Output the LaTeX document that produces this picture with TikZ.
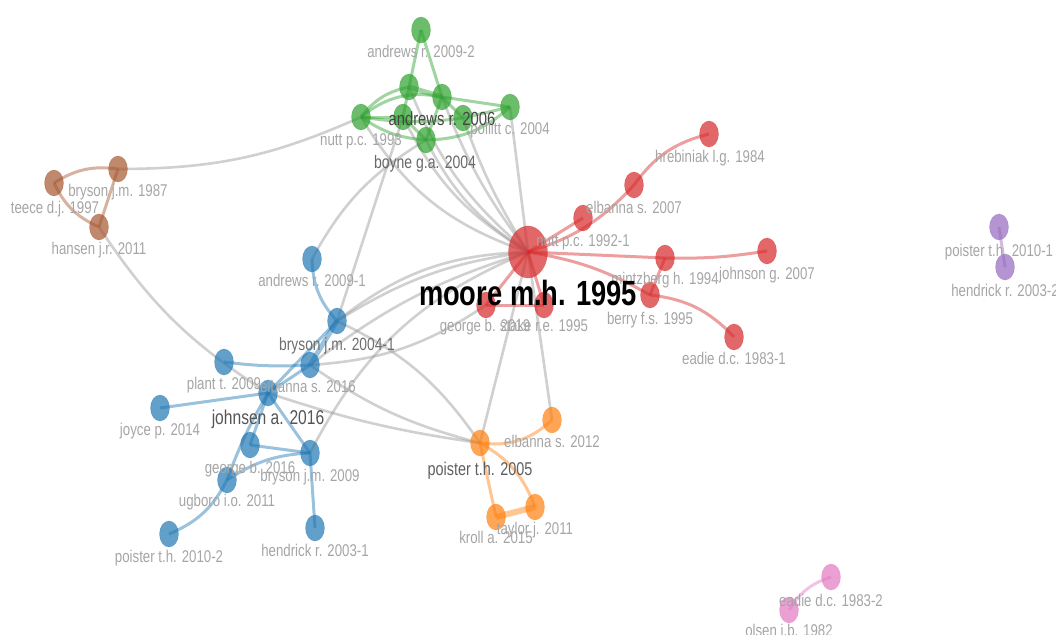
\documentclass[tikz,border=0pt]{standalone}
\usepackage{fontspec}
\usetikzlibrary{shapes.geometric,backgrounds}
\newfontfamily\lf[FakeStretch=0.78]{Liberation Sans}
\definecolor{cgreen}{RGB}{44,160,44}
\definecolor{cred}{RGB}{214,39,40}
\definecolor{cblue}{RGB}{31,119,180}
\definecolor{corange}{RGB}{255,127,14}
\definecolor{cbrown}{RGB}{165,85,45}
\definecolor{cpurple}{RGB}{148,103,189}
\definecolor{cpink}{RGB}{227,119,194}
\definecolor{lgray}{RGB}{165,165,165}
\definecolor{edgegray}{RGB}{150,150,150}
\tikzset{
  vn/.style={ellipse, inner sep=0pt, minimum width=19pt, minimum height=26pt,
    fill=#1, fill opacity=0.7, draw=#1, draw opacity=0.35, line width=0.6pt},
  bignode/.style={minimum width=39pt, minimum height=52pt},
  lbl/.style={font=\lf\fontsize{17}{17}\selectfont, text=lgray, inner sep=0pt, anchor=base},
  lblmid/.style={font=\lf\fontsize{#1}{#1}\selectfont, inner sep=0pt, anchor=base},
  gedge/.style={draw=edgegray, draw opacity=0.45, line width=2.6pt},
  cedge/.style={draw=#1, draw opacity=0.45, line width=3pt},
}
\begin{document}
\begin{tikzpicture}[x=1pt,y=-1pt]
\useasboundingbox (0,0) rectangle (1056,634);
% ---------- nodes ----------
% green
\node[vn=cgreen] (a092) at (421,30) {};
\node[vn=cgreen] (gA) at (409,87) {};
\node[vn=cgreen] (a06) at (442,97) {};
\node[vn=cgreen] (n93) at (361,117) {};
\node[vn=cgreen] (gC) at (403,117) {};
\node[vn=cgreen] (gD) at (463,118) {};
\node[vn=cgreen] (pol) at (510,107) {};
\node[vn=cgreen] (boy) at (426,140) {};
% brown
\node[vn=cbrown] (b87) at (118,169) {};
\node[vn=cbrown] (tee) at (54,183) {};
\node[vn=cbrown] (han) at (99,227) {};
% red
\node[vn=cred, bignode] (moore) at (528,252) {};
\node[vn=cred] (hreb) at (709,134) {};
\node[vn=cred] (el07) at (634,185) {};
\node[vn=cred] (n92) at (583,218) {};
\node[vn=cred] (mintz) at (665,258) {};
\node[vn=cred] (john07) at (767,251) {};
\node[vn=cred] (berry) at (650,295) {};
\node[vn=cred] (ead1) at (734,337) {};
\node[vn=cred] (geo19) at (486,305) {};
\node[vn=cred] (stake) at (544,305) {};
% blue
\node[vn=cblue] (a091) at (312,259) {};
\node[vn=cblue] (br041) at (337,321) {};
\node[vn=cblue] (el16) at (310,365) {};
\node[vn=cblue] (plant) at (224,362) {};
\node[vn=cblue] (johns) at (268,393) {};
\node[vn=cblue] (joyce) at (160,408) {};
\node[vn=cblue] (geo16) at (250,445) {};
\node[vn=cblue] (br09) at (310,453) {};
\node[vn=cblue] (ugb) at (227,480) {};
\node[vn=cblue] (poi102) at (169,534) {};
\node[vn=cblue] (hen1) at (315,528) {};
% orange
\node[vn=corange] (poi05) at (480,443) {};
\node[vn=corange] (el12) at (552,420) {};
\node[vn=corange] (tay) at (535,507) {};
\node[vn=corange] (kroll) at (496,517) {};
% purple
\node[vn=cpurple] (poi101) at (999,227) {};
\node[vn=cpurple] (hen2) at (1005,267) {};
% pink
\node[vn=cpink] (ead2) at (831,577) {};
\node[vn=cpink] (ols) at (789,610) {};

% ---------- edges ----------
\begin{scope}[on background layer]
% gray links between clusters
\draw[gedge] (b87.center) to[bend right=12] (n93.center);
\draw[gedge] (han.center) to[bend right=12] (johns.center);
\draw[gedge] (a091.center) to[bend left=15] (boy.center);
\draw[gedge] (br041.center) -- (gC.center);
\draw[gedge] (n93.center) to[bend right=20] (moore.center);
\draw[gedge] (gA.center) to[bend right=14] (moore.center);
\draw[gedge] (a06.center) to[bend right=8] (moore.center);
\draw[gedge] (gC.center) to[bend right=16] (moore.center);
\draw[gedge] (gD.center) to[bend right=6] (moore.center);
\draw[gedge] (boy.center) to[bend right=15] (moore.center);
\draw[gedge] (pol.center) -- (moore.center);
\draw[gedge] (moore.center) to[bend right=12] (br041.center);
\draw[gedge] (moore.center) to[bend right=18] (br041.center);
\draw[gedge] (moore.center) to[bend right=10] (el16.center);
\draw[gedge] (el16.center) to[bend right=15] (geo19.center);
\draw[gedge] (br041.center) to[bend left=15] (poi05.center);
\draw[gedge] (johns.center) to[bend right=5] (poi05.center);
\draw[gedge] (el16.center) to[bend right=10] (poi05.center);
\draw[gedge] (br09.center) to[bend left=20] (moore.center);
\draw[gedge] (moore.center) -- (poi05.center);
\draw[gedge] (moore.center) -- (el12.center);
% green
\draw[cedge=cgreen] (a092.center) -- (gA.center);
\draw[cedge=cgreen] (a092.center) -- (a06.center);
\draw[cedge=cgreen, line width=5pt] (gA.center) -- (a06.center);
\draw[cedge=cgreen] (n93.center) to[bend left=20] (gA.center);
\draw[cedge=cgreen] (n93.center) to[bend left=25] (a06.center);
\draw[cedge=cgreen] (n93.center) -- (gC.center);
\draw[cedge=cgreen] (n93.center) to[bend right=15] (boy.center);
\draw[cedge=cgreen] (n93.center) to[bend right=8] (gD.center);
\draw[cedge=cgreen] (a06.center) -- (pol.center);
\draw[cedge=cgreen] (gD.center) -- (pol.center);
\draw[cedge=cgreen] (boy.center) to[bend right=20] (pol.center);
\draw[cedge=cgreen] (gA.center) -- (gC.center);
\draw[cedge=cgreen] (a06.center) -- (gD.center);
\draw[cedge=cgreen] (a06.center) -- (boy.center);
\draw[cedge=cgreen] (gC.center) -- (boy.center);
% brown
\draw[cedge=cbrown] (tee.center) to[bend left=20] (b87.center);
\draw[cedge=cbrown] (tee.center) to[bend right=20] (han.center);
\draw[cedge=cbrown] (b87.center) -- (han.center);
% red
\draw[cedge=cred] (moore.center) -- (n92.center);
\draw[cedge=cred] (moore.center) to[bend right=15] (el07.center);
\draw[cedge=cred] (el07.center) to[bend left=20] (hreb.center);
\draw[cedge=cred] (moore.center) -- (mintz.center);
\draw[cedge=cred] (mintz.center) to[bend right=5] (john07.center);
\draw[cedge=cred] (mintz.center) -- (berry.center);
\draw[cedge=cred] (moore.center) to[bend left=10] (berry.center);
\draw[cedge=cred] (berry.center) to[bend left=20] (ead1.center);
\draw[cedge=cred] (moore.center) -- (geo19.center);
\draw[cedge=cred] (geo19.center) -- (stake.center);
\draw[cedge=cred] (moore.center) -- (stake.center);
% blue
\draw[cedge=cblue] (a091.center) to[bend right=20] (br041.center);
\draw[cedge=cblue, line width=5pt] (br041.center) -- (el16.center);
\draw[cedge=cblue] (br041.center) -- (johns.center);
\draw[cedge=cblue] (plant.center) to[bend right=5] (el16.center);
\draw[cedge=cblue] (el16.center) -- (johns.center);
\draw[cedge=cblue] (joyce.center) -- (johns.center);
\draw[cedge=cblue] (johns.center) -- (geo16.center);
\draw[cedge=cblue] (johns.center) -- (br09.center);
\draw[cedge=cblue] (johns.center) to[bend right=5] (ugb.center);
\draw[cedge=cblue] (geo16.center) -- (br09.center);
\draw[cedge=cblue] (br09.center) to[bend right=15] (ugb.center);
\draw[cedge=cblue] (ugb.center) to[bend left=20] (poi102.center);
\draw[cedge=cblue] (br09.center) -- (hen1.center);
% orange
\draw[cedge=corange] (poi05.center) to[bend right=25] (el12.center);
\draw[cedge=corange] (poi05.center) to[bend left=20] (tay.center);
\draw[cedge=corange] (poi05.center) -- (kroll.center);
\draw[cedge=corange, line width=6pt] (kroll.center) -- (tay.center);
% purple, pink
\draw[cedge=cpurple] (poi101.center) -- (hen2.center);
\draw[cedge=cpink] (ols.center) to[bend left=20] (ead2.center);
\end{scope}

% ---------- labels ----------
\node[lbl] (a092-l) at (421,58) {andrews r. 2009-2};
\node[lblmid=19, text={rgb,255:red,70;green,70;blue,70}] (a06-l) at (442,125) {andrews r. 2006};
\node[lbl] (n93-l) at (361,145) {nutt p.c. 1993};
\node[lbl] (pol-l) at (510,134) {pollitt c. 2004};
\node[lblmid=18, text={rgb,255:red,105;green,105;blue,105}] (boy-l) at (425,168.5) {boyne g.a. 2004};
\node[lbl] (b87-l) at (118,196) {bryson j.m. 1987};
\node[lbl] (tee-l) at (55,213) {teece d.j. 1997};
\node[lbl] (han-l) at (99,254) {hansen j.r. 2011};
\node[lbl] (hreb-l) at (710,162) {hrebiniak l.g. 1984};
\node[lbl] (el07-l) at (634,213) {elbanna s. 2007};
\node[lbl] (n92-l) at (583,246) {nutt p.c. 1992-1};
\node[lbl] (mintz-l) at (665,284) {mintzberg h. 1994};
\node[lbl] (john07-l) at (767,279) {johnson g. 2007};
\node[lbl] (berry-l) at (650,324) {berry f.s. 1995};
\node[lbl] (ead1-l) at (734,364) {eadie d.c. 1983-1};
\node[lbl] (geo19-l) at (485,331) {george b. 2019};
\node[lbl] (stake-l) at (544,331) {stake r.e. 1995};
\node[lbl] (a091-l) at (312,286) {andrews r. 2009-1};
\node[lblmid=17.7, text={rgb,255:red,110;green,110;blue,110}] (br041-l) at (337,350) {bryson j.m. 2004-1};
\node[lbl] (el16-l) at (308,392) {elbanna s. 2016};
\node[lbl] (plant-l) at (224,389) {plant t. 2009};
\node[lblmid=20, text={rgb,255:red,85;green,85;blue,85}] (johns-l) at (268,424) {johnsen a. 2016};
\node[lbl] (joyce-l) at (160,435) {joyce p. 2014};
\node[lbl] (geo16-l) at (250,473) {george b. 2016};
\node[lbl] (br09-l) at (310,481) {bryson j.m. 2009};
\node[lbl] (ugb-l) at (227,506) {ugboro i.o. 2011};
\node[lbl] (poi102-l) at (169,562) {poister t.h. 2010-2};
\node[lbl] (hen1-l) at (315,556) {hendrick r. 2003-1};
\node[lblmid=18.5, text={rgb,255:red,95;green,95;blue,95}] (poi05-l) at (480,475.5) {poister t.h. 2005};
\node[lbl] (el12-l) at (552,447) {elbanna s. 2012};
\node[lbl] (tay-l) at (535,534) {taylor j. 2011};
\node[lbl] (kroll-l) at (496,543) {kroll a. 2015};
\node[lbl] (poi101-l) at (999,256) {poister t.h. 2010-1};
\node[lbl] (hen2-l) at (1005,296) {hendrick r. 2003-2};
\node[lbl] (ead2-l) at (831,606) {eadie d.c. 1983-2};
\node[lbl] (ols-l) at (789,636) {olsen i.b. 1982};
\node[font=\lf\bfseries\fontsize{35}{35}\selectfont, text=black, inner sep=0pt, anchor=base] (moore-l) at (528,305) {moore m.h. 1995};
\end{tikzpicture}
\end{document}
